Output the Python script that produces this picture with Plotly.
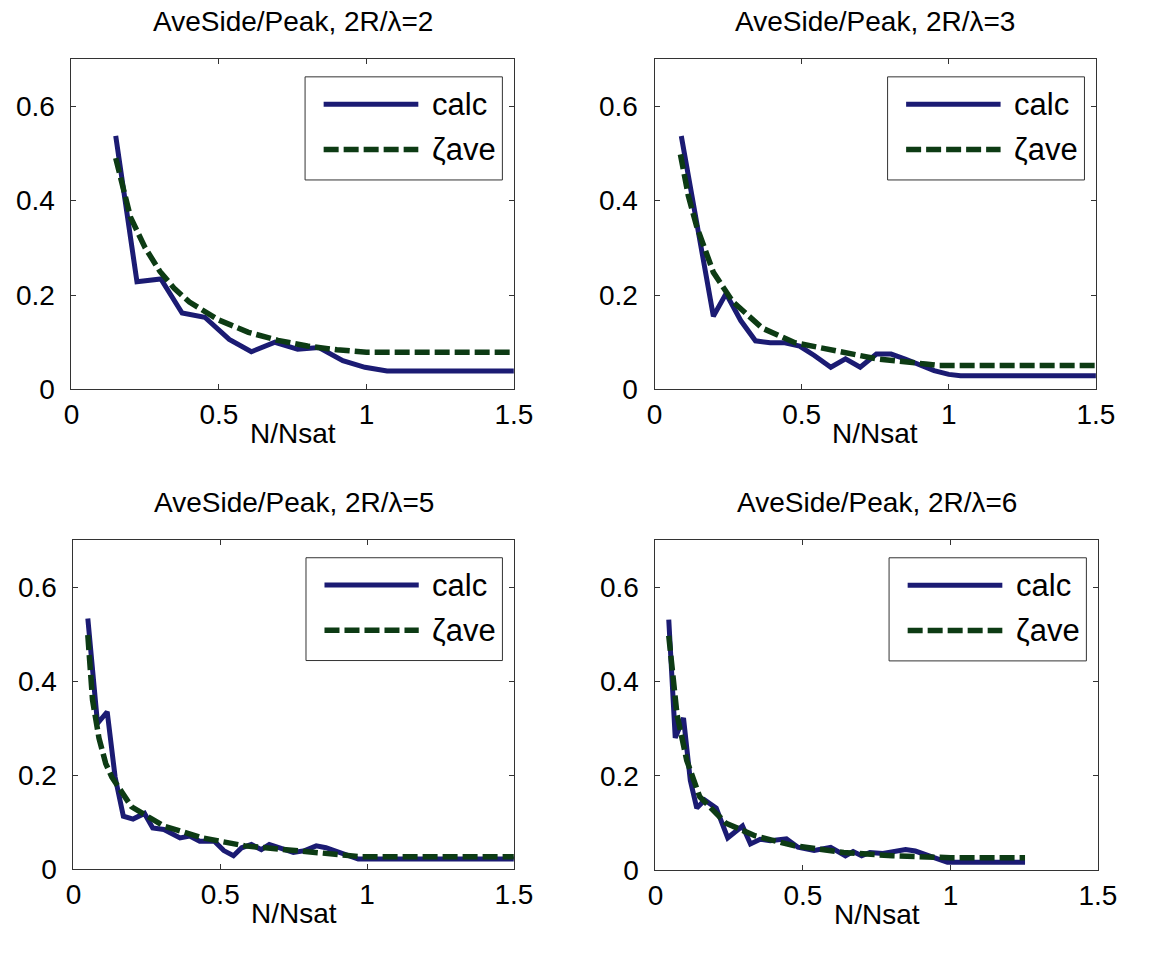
import plotly.graph_objects as go

# ---- data: ratio of average sidelobe to peak vs N/Nsat ----
titles = ["AveSide/Peak, 2R/λ=2", "AveSide/Peak, 2R/λ=3",
          "AveSide/Peak, 2R/λ=5", "AveSide/Peak, 2R/λ=6"]

calc1_x = [0.15, 0.222, 0.303, 0.375, 0.452, 0.535, 0.61, 0.69, 0.767, 0.839, 0.92, 0.995, 1.07, 1.5]
calc1_y = [0.537, 0.228, 0.234, 0.162, 0.153, 0.106, 0.080, 0.100, 0.085, 0.089, 0.061, 0.047, 0.039, 0.039]
zeta1_x = [0.15, 0.2, 0.25, 0.3, 0.35, 0.4, 0.5, 0.6, 0.7, 0.8, 0.9, 1.0, 1.5]
zeta1_y = [0.49, 0.365, 0.30, 0.25, 0.213, 0.185, 0.147, 0.121, 0.104, 0.092, 0.084, 0.079, 0.079]

calc2_x = [0.091, 0.2, 0.243, 0.293, 0.343, 0.393, 0.443, 0.493, 0.543, 0.599, 0.649, 0.699,
           0.754, 0.804, 0.854, 0.904, 0.95, 1.0, 1.04, 1.5]
calc2_y = [0.537, 0.155, 0.203, 0.146, 0.103, 0.099, 0.099, 0.092, 0.072, 0.047, 0.065, 0.047,
           0.075, 0.075, 0.064, 0.050, 0.040, 0.032, 0.029, 0.029]
zeta2_x = [0.088, 0.115, 0.143, 0.2, 0.266, 0.366, 0.477, 0.61, 0.754, 0.921, 0.96, 1.5]
zeta2_y = [0.498, 0.41, 0.346, 0.248, 0.186, 0.130, 0.099, 0.082, 0.065, 0.054, 0.051, 0.051]

calc3_x = [0.049, 0.082, 0.115, 0.142, 0.17, 0.203, 0.242, 0.27, 0.308, 0.363, 0.396, 0.43, 0.48,
           0.512, 0.545, 0.573, 0.606, 0.64, 0.667, 0.705, 0.749, 0.788, 0.827, 0.86, 0.904, 0.97, 1.5]
calc3_y = [0.533, 0.31, 0.335, 0.196, 0.113, 0.107, 0.119, 0.088, 0.085, 0.067, 0.071, 0.060, 0.060,
           0.040, 0.029, 0.046, 0.053, 0.042, 0.053, 0.044, 0.036, 0.040, 0.050, 0.046, 0.036, 0.022, 0.022]
zeta3_x = [0.049, 0.065, 0.087, 0.11, 0.131, 0.198, 0.308, 0.44, 0.584, 0.749, 0.915, 0.98, 1.5]
zeta3_y = [0.498, 0.36, 0.279, 0.225, 0.196, 0.133, 0.092, 0.067, 0.050, 0.040, 0.029, 0.027, 0.027]

calc4_x = [0.045, 0.067, 0.095, 0.118, 0.14, 0.167, 0.206, 0.245, 0.295, 0.322, 0.355, 0.389, 0.444,
           0.483, 0.538, 0.594, 0.644, 0.67, 0.699, 0.727, 0.771, 0.848, 0.881, 0.926, 0.97, 0.99, 1.253]
calc4_y = [0.531, 0.281, 0.323, 0.191, 0.132, 0.149, 0.132, 0.069, 0.094, 0.056, 0.066, 0.063, 0.067,
           0.049, 0.042, 0.049, 0.031, 0.040, 0.031, 0.038, 0.036, 0.044, 0.041, 0.031, 0.021, 0.017, 0.017]
zeta4_x = [0.045, 0.06, 0.073, 0.106, 0.15, 0.239, 0.339, 0.472, 0.638, 0.804, 0.937, 1.0, 1.253]
zeta4_y = [0.497, 0.39, 0.33, 0.233, 0.156, 0.100, 0.073, 0.052, 0.038, 0.031, 0.028, 0.027, 0.027]

x_ticks = [0, 0.5, 1, 1.5]
x_ticktext = ["0", "0.5", "1", "1.5"]
y_ticks = [0, 0.2, 0.4, 0.6]
y_ticktext = ["0", "0.2", "0.4", "0.6"]

series = [(calc1_x, calc1_y, zeta1_x, zeta1_y),
          (calc2_x, calc2_y, zeta2_x, zeta2_y),
          (calc3_x, calc3_y, zeta3_x, zeta3_y),
          (calc4_x, calc4_y, zeta4_x, zeta4_y)]

# ---- layout geometry (pixels) ----
W, H = 1154, 970
px_boxes = [(65, 518, 60, 396), (662, 1114, 60, 396),
            (67, 518, 549, 884), (663, 1116, 549, 885)]

CALC_COLOR = "#1b1b73"
ZETA_COLOR = "#0d3b14"
FONT = "Liberation Sans, Arial, sans-serif"

fig = go.Figure()
layout = dict(width=W, height=H, margin=dict(l=0, r=0, t=0, b=0),
              paper_bgcolor="white", plot_bgcolor="white", showlegend=False)
shapes, annotations = [], []

for i, ((cx, cy, zx, zy), (x0, x1, y0, y1)) in enumerate(zip(series, px_boxes)):
    k = "" if i == 0 else str(i + 1)
    xa, ya = "x" + k, "y" + k
    fig.add_trace(go.Scatter(x=cx, y=cy, mode="lines", xaxis=xa, yaxis=ya,
                             line=dict(color=CALC_COLOR, width=5)))
    fig.add_trace(go.Scatter(x=zx, y=zy, mode="lines", xaxis=xa, yaxis=ya,
                             line=dict(color=ZETA_COLOR, width=5.5, dash="15px,5px")))
    axis_common = dict(showline=True, linecolor="#333", linewidth=1, mirror="ticks",
                       ticks="inside", ticklen=5, tickcolor="#333", showgrid=False,
                       zeroline=False, tickfont=dict(family=FONT, size=28, color="black"))
    layout["xaxis" + k] = dict(domain=[x0 / W, x1 / W], range=[0, 1.5], anchor=ya,
                               tickvals=x_ticks, ticktext=x_ticktext, ticklabelstandoff=0,
                               **axis_common)
    layout["yaxis" + k] = dict(domain=[1 - y1 / H, 1 - y0 / H], range=[0, 0.7], anchor=xa,
                               tickvals=y_ticks, ticktext=y_ticktext, ticklabelstandoff=10,
                               **axis_common)

    # title and x label
    xc = (x0 + x1) / 2 / W
    annotations.append(dict(text=titles[i], x=xc, y=1 - (y0 - 38) / H, xref="paper", yref="paper",
                            showarrow=False, xanchor="center", yanchor="middle",
                            font=dict(family=FONT, size=28, color="black")))
    annotations.append(dict(text="N/Nsat", x=xc, y=1 - (y1 + 45) / H, xref="paper", yref="paper",
                            showarrow=False, xanchor="center", yanchor="middle",
                            font=dict(family=FONT, size=28, color="black")))

    # legend box drawn inside the axes
    xd, yd = xa + " domain", ya + " domain"
    shapes.append(dict(type="rect", xref=xd, yref=yd, x0=0.528, x1=0.974, y0=0.634, y1=0.946,
                       line=dict(color="#333", width=1), fillcolor="white", layer="above"))
    shapes.append(dict(type="line", xref=xd, yref=yd, x0=0.57, x1=0.784, y0=0.863, y1=0.863,
                       line=dict(color=CALC_COLOR, width=5), layer="above"))
    shapes.append(dict(type="line", xref=xd, yref=yd, x0=0.57, x1=0.784, y0=0.726, y1=0.726,
                       line=dict(color=ZETA_COLOR, width=5.5, dash="15px,5px"), layer="above"))
    for label, yy in (("calc", 0.863), ("ζave", 0.726)):
        annotations.append(dict(text=label, x=0.81, y=yy, xref=xd, yref=yd, showarrow=False,
                                xanchor="left", yanchor="middle",
                                font=dict(family=FONT, size=31, color="black")))

layout["shapes"] = shapes
layout["annotations"] = annotations
fig.update_layout(**layout)
fig.write_html("out.html")
